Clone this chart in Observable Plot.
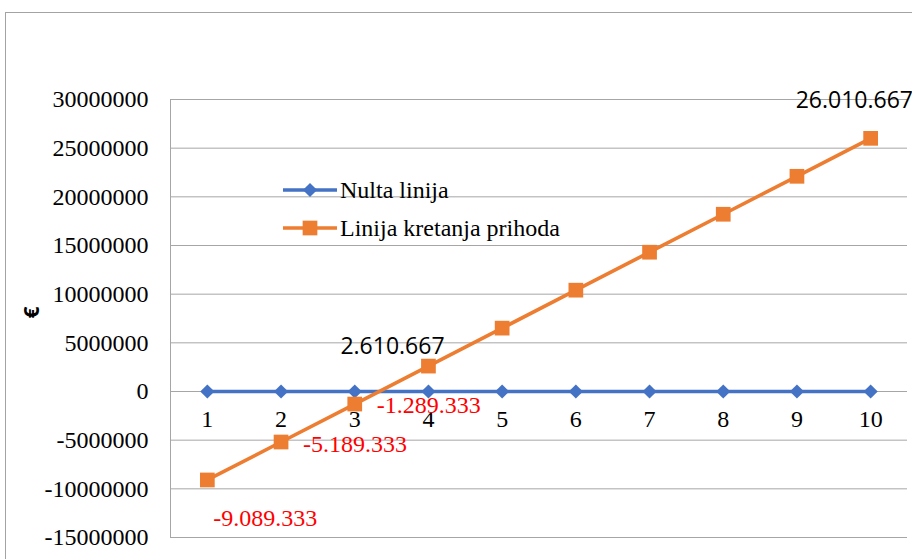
<!DOCTYPE html>
<html>
<head>
<meta charset="utf-8">
<script src="https://cdn.jsdelivr.net/npm/d3@7"></script>
<script src="https://cdn.jsdelivr.net/npm/@observablehq/plot@0.6"></script>
<style>
  html, body { margin: 0; padding: 0; background: #fff; overflow: hidden; width: 912px; height: 559px; }
  #wrap { position: relative; width: 912px; height: 559px; overflow: hidden; }
  #border { position: absolute; left: 5px; top: 12px; width: 1000px; height: 1000px;
            border: 1px solid #a3a3a3; box-sizing: border-box; pointer-events: none; }
  #chart { position: absolute; left: 0; top: 0; }
</style>
</head>
<body>
<div id="wrap">
  <div id="border"></div>
  <div id="chart"></div>
</div>
<script>
// Years of the projection (category axis)
const years = [1, 2, 3, 4, 5, 6, 7, 8, 9, 10];
// Break-even reference line
const nultaLinija = [0, 0, 0, 0, 0, 0, 0, 0, 0, 0];
// Cumulative income per year, in euros
const prihodi = [-9089333, -5189333, -1289333, 2610667, 6510667, 10410667, 14310667, 18210667, 22110667, 26010667];
// Value axis ticks
const yTicks = [-15000000, -10000000, -5000000, 0, 5000000, 10000000, 15000000, 20000000, 25000000, 30000000];
const seriesNames = ["Nulta linija", "Linija kretanja prihoda"];
const yTitle = "€";

const BLUE = "#4472C4";
const ORANGE = "#ED7D31";
const GRID = "#a6a6a6";
const SERIF = "'Liberation Serif', 'Times New Roman', serif";
const SANS = "'Open Sans', 'Liberation Sans', sans-serif";
const LINE_W = 3.6;
const DIAMOND_R = 6.4;
const SQUARE_R = 8.3;

const rows = years.map((x, i) => ({x, zero: nultaLinija[i], prihod: prihodi[i]}));

// Thousands grouped with dots, plain hyphen for negatives
const fmt = d3.formatLocale({decimal: ",", thousands: ".", grouping: [3], currency: ["", " €"], minus: "-"}).format(",d");

// Value label for one point of the income series
const valueLabel = (i, opts) => Plot.text([rows[i]], {
  x: "x", y: "prihod", text: d => fmt(d.prihod), fontSize: 24, ...opts
});

const chart = Plot.plot({
  width: 912,
  height: 559,
  marginLeft: 170,
  marginRight: 5,
  marginTop: 99,
  marginBottom: 22,
  style: {fontFamily: SERIF, fontSize: "24px", color: "#000", background: "transparent"},
  x: {type: "linear", domain: [0.5, 10.5], axis: null},
  y: {domain: [-15000000, 30000000], axis: null},
  marks: [
    Plot.gridY(yTicks, {stroke: GRID, strokeOpacity: 1, strokeWidth: 1}),
    Plot.ruleX([0.5], {stroke: GRID, strokeWidth: 1}),
    Plot.axisY({
      ticks: yTicks, tickSize: 0, tickPadding: 22, label: null,
      tickFormat: d => String(d), fontSize: 24, fontFamily: SERIF, fill: "#000"
    }),
    // category labels sit just under the zero line, where the axis crosses
    Plot.text(rows, {x: "x", y: "zero", text: d => String(d.x), dy: 28, fontSize: 24, fill: "#000"}),
    // axis title
    Plot.text([yTitle], {frameAnchor: "left", dx: -138, rotate: -90, fontSize: 21,
      fontWeight: "bold", fontFamily: SANS, fill: "#000"}),
    // series
    Plot.line(rows, {x: "x", y: "zero", stroke: BLUE, strokeWidth: LINE_W}),
    Plot.dot(rows, {x: "x", y: "zero", symbol: "diamond2", r: DIAMOND_R, fill: BLUE, stroke: "none"}),
    Plot.line(rows, {x: "x", y: "prihod", stroke: ORANGE, strokeWidth: LINE_W}),
    Plot.dot(rows, {x: "x", y: "prihod", symbol: "square", r: SQUARE_R, fill: ORANGE, stroke: "none"}),
    // value labels
    valueLabel(0, {fill: "#ff0000", textAnchor: "middle", dx: 58, dy: 38}),
    valueLabel(1, {fill: "#ff0000", textAnchor: "start", dx: 22, dy: 2}),
    valueLabel(2, {fill: "#ff0000", textAnchor: "start", dx: 22, dy: 1}),
    valueLabel(3, {fill: "#000", fontFamily: SANS, fontSize: 23, textAnchor: "middle", dx: -36, dy: -19}),
    valueLabel(9, {fill: "#000", fontFamily: SANS, fontSize: 23, textAnchor: "start", dx: -75, dy: -38})
  ]
});

document.getElementById("chart").appendChild(chart);

// Legend placed inside the plot area
const svg = d3.select(chart);
const legend = svg.append("g")
  .attr("font-family", SERIF)
  .attr("font-size", 24)
  .attr("text-anchor", "start");
const items = [
  {name: seriesNames[0], color: BLUE, symbol: d3.symbolDiamond2, size: Math.PI * DIAMOND_R * DIAMOND_R, y: 190},
  {name: seriesNames[1], color: ORANGE, symbol: d3.symbolSquare, size: Math.PI * SQUARE_R * SQUARE_R, y: 228}
];
for (const it of items) {
  const g = legend.append("g").attr("transform", `translate(0,${it.y})`);
  g.append("line").attr("x1", 283).attr("x2", 337).attr("y1", 0).attr("y2", 0)
    .attr("stroke", it.color).attr("stroke-width", LINE_W);
  g.append("path").attr("d", d3.symbol(it.symbol, it.size)()).attr("transform", "translate(310,0)")
    .attr("fill", it.color);
  g.append("text").attr("x", 340).attr("y", 0).attr("dy", "0.32em")
    .attr("text-anchor", "start").attr("fill", "#000").text(it.name);
}
</script>
</body>
</html>
